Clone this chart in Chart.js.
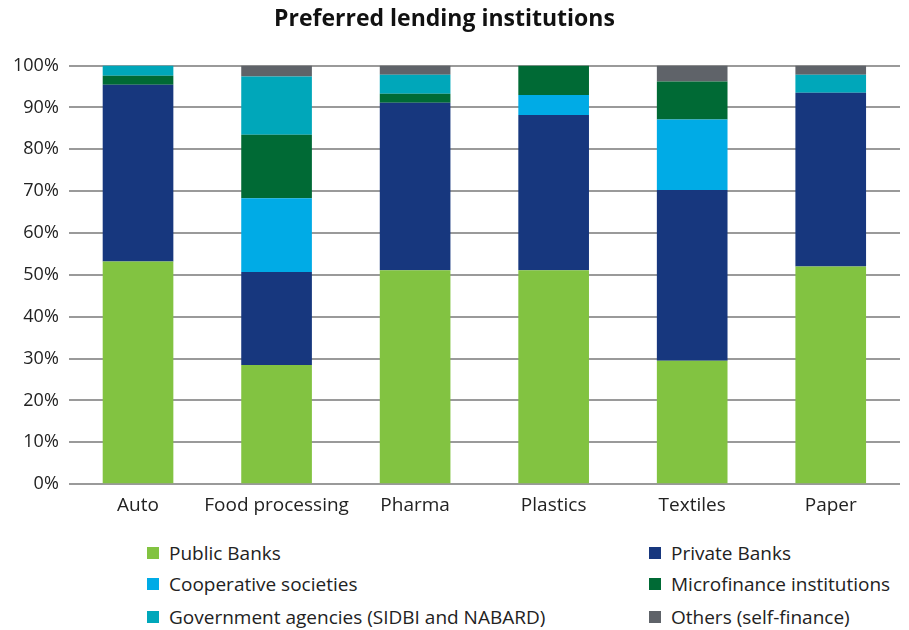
<!DOCTYPE html>
<html>
<head>
<meta charset="utf-8">
<script src="https://cdn.jsdelivr.net/npm/chart.js@4/dist/chart.umd.min.js"></script>
<style>
  body { margin: 0; background: #fff; font-family: "Open Sans", sans-serif; }
  #wrap { position: relative; width: 909px; height: 530px; }
  #legend { position: relative; width: 909px; height: 100px; font-size: 19px; color: #222; }
  .item { position: absolute; display: flex; align-items: center; }
  .box { width: 12px; height: 12px; margin-right: 10px; }
</style>
</head>
<body>
<div id="wrap"><canvas id="grafico"></canvas></div>
<div id="legend"></div>
<script>
// Datos del gráfico
const categorias = ['Auto', 'Food processing', 'Pharma', 'Plastics', 'Textiles', 'Paper'];
const bancosPublicos = [53.2, 28.5, 51.1, 51.1, 29.5, 52.0];
const bancosPrivados = [42.2, 22.2, 40.0, 37.1, 40.8, 41.5];
const cooperativas = [0, 17.6, 0, 4.8, 16.8, 0];
const microfinanzas = [2.2, 15.2, 2.2, 7.0, 9.1, 0];
const agenciasGob = [2.4, 13.9, 4.5, 0, 0, 4.3];
const otros = [0, 2.6, 2.2, 0, 3.8, 2.2];
const ticksY = [0, 10, 20, 30, 40, 50, 60, 70, 80, 90, 100];

const series = [
    { label: 'Public Banks', data: bancosPublicos, color: '#82C341' },
    { label: 'Private Banks', data: bancosPrivados, color: '#17377E' },
    { label: 'Cooperative societies', data: cooperativas, color: '#00ABE6' },
    { label: 'Microfinance institutions', data: microfinanzas, color: '#006A35' },
    { label: 'Government agencies (SIDBI and NABARD)', data: agenciasGob, color: '#00A7BA' },
    { label: 'Others (self-finance)', data: otros, color: '#5F6369' }
];

Chart.defaults.font.family = '"Open Sans", sans-serif';
Chart.defaults.color = '#222';

// Mover el título un poco a la izquierda, como en el original
const desplazarTitulo = {
    id: 'desplazarTitulo',
    afterLayout(chart) {
        if (chart.titleBlock) {
            chart.titleBlock.right -= 14;
        }
    }
};

const ctx = document.getElementById('grafico').getContext('2d');
new Chart(ctx, {
    type: 'bar',
    data: {
        labels: categorias,
        datasets: series.map(s => ({
            label: s.label,
            data: s.data,
            backgroundColor: s.color,
            borderWidth: 0,
            categoryPercentage: 1,
            barPercentage: 0.51
        }))
    },
    plugins: [desplazarTitulo],
    options: {
        responsive: true,
        maintainAspectRatio: false,
        animation: false,
        layout: { padding: { left: 3, right: 9, top: 0, bottom: 11 } },
        plugins: {
            legend: { display: false },
            tooltip: { enabled: false },
            title: {
                display: true,
                text: 'Preferred lending institutions',
                font: { size: 23, weight: 'bold' },
                color: '#111',
                padding: { top: 6, bottom: 32 }
            }
        },
        scales: {
            x: {
                stacked: true,
                grid: { display: false },
                border: { display: false },
                ticks: { font: { size: 19 }, padding: 2, maxRotation: 0, minRotation: 0, autoSkip: false }
            },
            y: {
                stacked: true,
                min: 0,
                max: 100,
                afterBuildTicks: axis => { axis.ticks = ticksY.map(v => ({ value: v })); },
                grid: { color: '#9a9a9a', lineWidth: 2, drawTicks: false },
                border: { display: false },
                ticks: {
                    font: { size: 18 },
                    padding: 10,
                    callback: v => v + '%'
                }
            }
        }
    }
});

// Leyenda en dos columnas
const posiciones = [
    { x: 147, y: 23 }, { x: 649, y: 23 },
    { x: 147, y: 54 }, { x: 649, y: 54 },
    { x: 147, y: 87 }, { x: 649, y: 87 }
];
const legend = document.getElementById('legend');
series.forEach((s, i) => {
    const el = document.createElement('div');
    el.className = 'item';
    el.style.left = posiciones[i].x + 'px';
    el.style.top = (posiciones[i].y - 13) + 'px';
    el.innerHTML = '<span class="box" style="background:' + s.color + '"></span><span>' + s.label + '</span>';
    legend.appendChild(el);
});
</script>
</body>
</html>
